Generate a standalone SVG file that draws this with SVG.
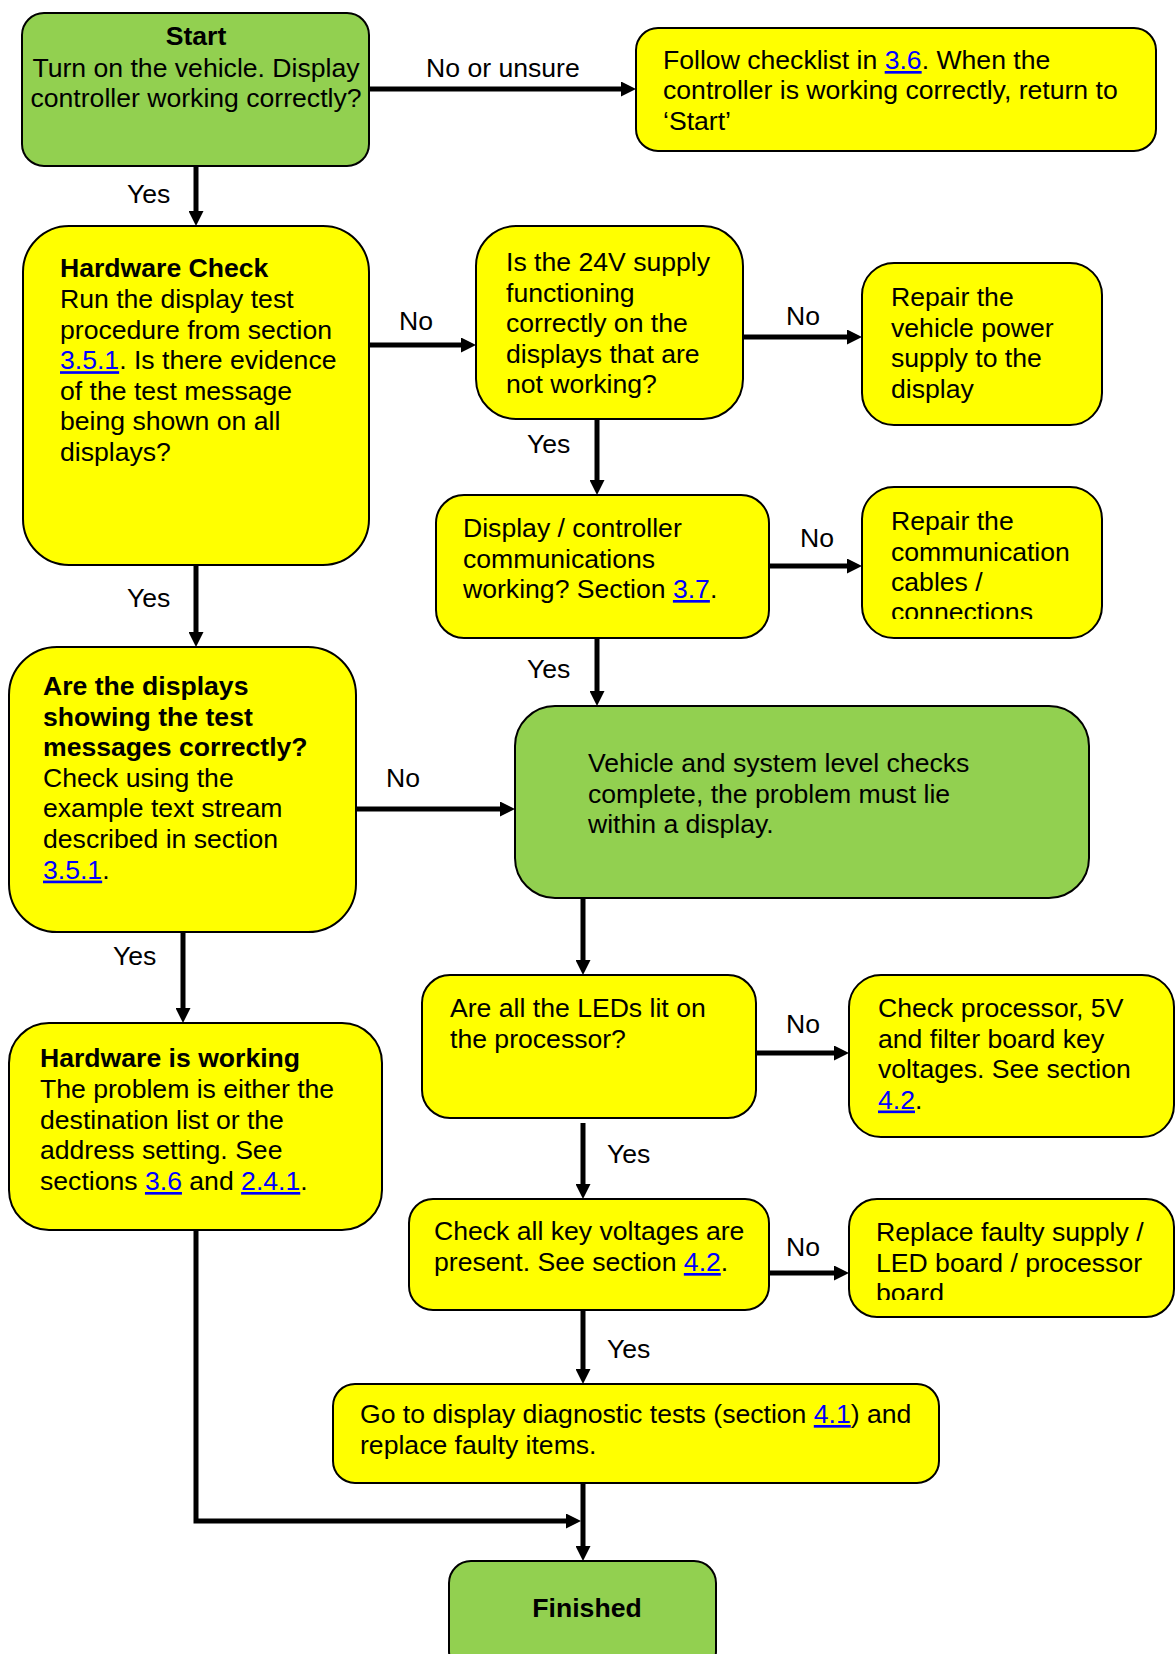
<svg xmlns="http://www.w3.org/2000/svg" width="1175" height="1654" viewBox="0 0 1175 1654">
<style>
  .box { stroke: #000; stroke-width: 2; }
  .y { fill: #FFFF00; }
  .g { fill: #92D050; }
  text { font-family: "Liberation Sans", Arial, sans-serif; font-size: 26.6px; fill: #000; }
  .b { font-weight: bold; }
  .c { text-anchor: middle; }
  .lk { fill: #0000FF; text-decoration: underline; }
  .conn { fill: none; stroke: #000; stroke-width: 5; marker-end: url(#ah); }
</style>
<defs>
  <marker id="ah" viewBox="0 0 15 15" markerWidth="15" markerHeight="15" refX="5" refY="7.5" orient="auto" markerUnits="userSpaceOnUse">
    <path d="M0,0 L15,7.5 L0,15 Z" fill="#000"/>
  </marker>
  <clipPath id="clipComm"><rect x="862" y="487" width="240" height="132"/></clipPath>
  <clipPath id="clipRepl"><rect x="849" y="1199" width="326" height="101"/></clipPath>
</defs>
<rect width="1175" height="1654" fill="#fff"/>

<g id="connectors">
  <path class="conn" d="M196,166 V216"/>
  <path class="conn" d="M369,89 H626"/>
  <path class="conn" d="M369,345 H466"/>
  <path class="conn" d="M743,337 H852"/>
  <path class="conn" d="M597,419 V485"/>
  <path class="conn" d="M769,566 H852"/>
  <path class="conn" d="M597,638 V696"/>
  <path class="conn" d="M196,565 V637"/>
  <path class="conn" d="M356,809 H505"/>
  <path class="conn" d="M183,932 V1013"/>
  <path class="conn" d="M583,898 V965"/>
  <path class="conn" d="M756,1053 H839"/>
  <path class="conn" d="M583,1123 V1189"/>
  <path class="conn" d="M769,1273 H839"/>
  <path class="conn" d="M583,1310 V1374"/>
  <path class="conn" d="M196,1230 V1521 H571"/>
  <path class="conn" d="M583,1483 V1551"/>
  <text x="127" y="203">Yes</text>
  <text x="426" y="77">No or unsure</text>
  <text x="399" y="330">No</text>
  <text x="786" y="325">No</text>
  <text x="527" y="453">Yes</text>
  <text x="800" y="547">No</text>
  <text x="527" y="678">Yes</text>
  <text x="127" y="607">Yes</text>
  <text x="386" y="787">No</text>
  <text x="113" y="965">Yes</text>
  <text x="786" y="1033">No</text>
  <text x="607" y="1163">Yes</text>
  <text x="786" y="1256">No</text>
  <text x="607" y="1358">Yes</text>
</g>

<g id="start">
  <rect class="box g" x="22" y="13" width="347" height="153" rx="22"/>
  <text class="c b" x="196" y="45">Start</text>
  <text class="c" x="196" y="76.5">Turn on the vehicle. Display</text>
  <text class="c" x="196" y="106.5">controller working correctly?</text>
</g>

<g id="follow-checklist">
  <rect class="box y" x="636" y="28" width="520" height="123" rx="22"/>
  <text x="663" y="69">Follow checklist in <tspan class="lk">3.6</tspan>. When the</text>
  <text x="663" y="99">controller is working correctly, return to</text>
  <text x="663" y="129.5">‘Start’</text>
</g>

<g id="hardware-check">
  <rect class="box y" x="23" y="226" width="346" height="339" rx="46"/>
  <text class="b" x="60" y="277">Hardware Check</text>
  <text x="60" y="308">Run the display test</text>
  <text x="60" y="338.6">procedure from section</text>
  <text x="60" y="369.2"><tspan class="lk">3.5.1</tspan>. Is there evidence</text>
  <text x="60" y="399.8">of the test message</text>
  <text x="60" y="430.4">being shown on all</text>
  <text x="60" y="461">displays?</text>
</g>

<g id="supply-24v">
  <rect class="box y" x="476" y="226" width="267" height="193" rx="40"/>
  <text x="506" y="271">Is the 24V supply</text>
  <text x="506" y="301.5">functioning</text>
  <text x="506" y="332">correctly on the</text>
  <text x="506" y="362.5">displays that are</text>
  <text x="506" y="393">not working?</text>
</g>

<g id="repair-power">
  <rect class="box y" x="862" y="263" width="240" height="162" rx="32"/>
  <text x="891" y="306">Repair the</text>
  <text x="891" y="336.5">vehicle power</text>
  <text x="891" y="367">supply to the</text>
  <text x="891" y="397.5">display</text>
</g>

<g id="comms">
  <rect class="box y" x="436" y="495" width="333" height="143" rx="28"/>
  <text x="463" y="537">Display / controller</text>
  <text x="463" y="567.5">communications</text>
  <text x="463" y="598">working? Section <tspan class="lk">3.7</tspan>.</text>
</g>

<g id="repair-comms">
  <rect class="box y" x="862" y="487" width="240" height="151" rx="32"/>
  <g clip-path="url(#clipComm)">
    <text x="891" y="530">Repair the</text>
    <text x="891" y="560.5">communication</text>
    <text x="891" y="591">cables /</text>
    <text x="891" y="621">connections</text>
  </g>
</g>

<g id="displays-showing">
  <rect class="box y" x="9" y="647" width="347" height="285" rx="48"/>
  <text class="b" x="43" y="695">Are the displays</text>
  <text class="b" x="43" y="725.6">showing the test</text>
  <text class="b" x="43" y="756.2">messages correctly?</text>
  <text x="43" y="786.8">Check using the</text>
  <text x="43" y="817.4">example text stream</text>
  <text x="43" y="848">described in section</text>
  <text x="43" y="878.6"><tspan class="lk">3.5.1</tspan>.</text>
</g>

<g id="system-checks-complete">
  <rect class="box g" x="515" y="706" width="574" height="192" rx="40"/>
  <text x="588" y="772">Vehicle and system level checks</text>
  <text x="588" y="802.5">complete, the problem must lie</text>
  <text x="588" y="833">within a display.</text>
</g>

<g id="leds-lit">
  <rect class="box y" x="422" y="975" width="334" height="143" rx="28"/>
  <text x="450" y="1017">Are all the LEDs lit on</text>
  <text x="450" y="1047.5">the processor?</text>
</g>

<g id="check-processor">
  <rect class="box y" x="849" y="975" width="325" height="162" rx="32"/>
  <text x="878" y="1017">Check processor, 5V</text>
  <text x="878" y="1047.5">and filter board key</text>
  <text x="878" y="1078">voltages. See section</text>
  <text x="878" y="1108.5"><tspan class="lk">4.2</tspan>.</text>
</g>

<g id="hardware-working">
  <rect class="box y" x="9" y="1023" width="373" height="207" rx="40"/>
  <text class="b" x="40" y="1067">Hardware is working</text>
  <text x="40" y="1098">The problem is either the</text>
  <text x="40" y="1128.5">destination list or the</text>
  <text x="40" y="1159">address setting. See</text>
  <text x="40" y="1190">sections <tspan class="lk">3.6</tspan> and <tspan class="lk">2.4.1</tspan>.</text>
</g>

<g id="check-key-voltages">
  <rect class="box y" x="409" y="1199" width="360" height="111" rx="24"/>
  <text x="434" y="1240">Check all key voltages are</text>
  <text x="434" y="1271">present. See section <tspan class="lk">4.2</tspan>.</text>
</g>

<g id="replace-faulty">
  <rect class="box y" x="849" y="1199" width="325" height="118" rx="28"/>
  <g clip-path="url(#clipRepl)">
    <text x="876" y="1241">Replace faulty supply /</text>
    <text x="876" y="1271.5">LED board / processor</text>
    <text x="876" y="1302">board</text>
  </g>
</g>

<g id="diagnostic-tests">
  <rect class="box y" x="333" y="1384" width="606" height="99" rx="22"/>
  <text x="360" y="1423">Go to display diagnostic tests (section <tspan class="lk">4.1</tspan>) and</text>
  <text x="360" y="1454">replace faulty items.</text>
</g>

<g id="finished">
  <rect class="box g" x="449" y="1561" width="267" height="112" rx="22"/>
  <text class="c b" x="587" y="1617">Finished</text>
</g>
</svg>
